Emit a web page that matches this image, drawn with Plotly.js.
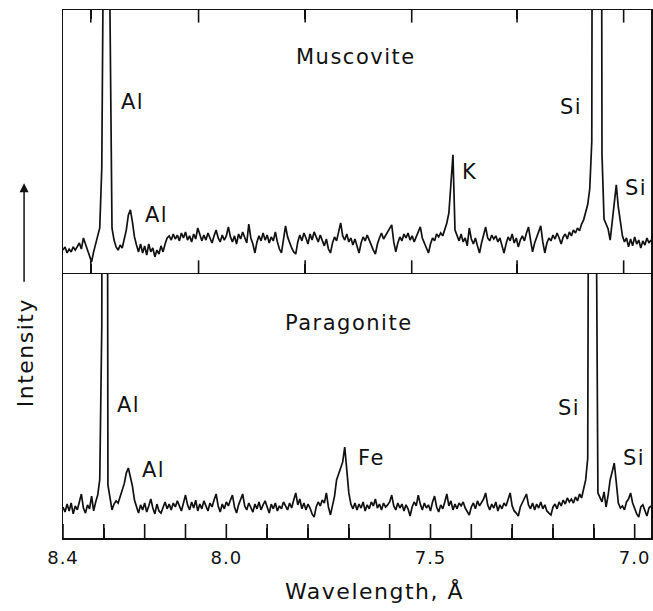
<!DOCTYPE html>
<html>
<head>
<meta charset="utf-8">
<script src="https://cdn.plot.ly/plotly-3.0.1.min.js"></script>
<style>
html,body{margin:0;padding:0;background:#fff;}
#chart{width:653px;height:611px;}
.annotation-text{letter-spacing:1.5px;}
.xtick text, .x2tick text{letter-spacing:1px;}
</style>
</head>
<body>
<div id="chart"></div>
<script>
// Wavelength grid (Angstrom), scanned from 8.40 down to 6.96
const wavelength = [
8.4,8.395,8.39,8.385,8.38,8.375,8.37,8.365,8.36,8.355,
8.35,8.345,8.34,8.335,8.33,8.325,8.32,8.315,8.31,8.305,
8.3,8.295,8.29,8.285,8.28,8.275,8.27,8.265,8.26,8.255,
8.25,8.245,8.24,8.235,8.23,8.225,8.22,8.215,8.21,8.205,
8.2,8.195,8.19,8.185,8.18,8.175,8.17,8.165,8.16,8.155,
8.15,8.145,8.14,8.135,8.13,8.125,8.12,8.115,8.11,8.105,
8.1,8.095,8.09,8.085,8.08,8.075,8.07,8.065,8.06,8.055,
8.05,8.045,8.04,8.035,8.03,8.025,8.02,8.015,8.01,8.005,
8.0,7.995,7.99,7.985,7.98,7.975,7.97,7.965,7.96,7.955,
7.95,7.945,7.94,7.935,7.93,7.925,7.92,7.915,7.91,7.905,
7.9,7.895,7.89,7.885,7.88,7.875,7.87,7.865,7.86,7.855,
7.85,7.845,7.84,7.835,7.83,7.825,7.82,7.815,7.81,7.805,
7.8,7.795,7.79,7.785,7.78,7.775,7.77,7.765,7.76,7.755,
7.75,7.745,7.74,7.735,7.73,7.725,7.72,7.715,7.71,7.705,
7.7,7.695,7.69,7.685,7.68,7.675,7.67,7.665,7.66,7.655,
7.65,7.645,7.64,7.635,7.63,7.625,7.62,7.615,7.61,7.605,
7.6,7.595,7.59,7.585,7.58,7.575,7.57,7.565,7.56,7.555,
7.55,7.545,7.54,7.535,7.53,7.525,7.52,7.515,7.51,7.505,
7.5,7.495,7.49,7.485,7.48,7.475,7.47,7.465,7.46,7.455,
7.45,7.445,7.44,7.435,7.43,7.425,7.42,7.415,7.41,7.405,
7.4,7.395,7.39,7.385,7.38,7.375,7.37,7.365,7.36,7.355,
7.35,7.345,7.34,7.335,7.33,7.325,7.32,7.315,7.31,7.305,
7.3,7.295,7.29,7.285,7.28,7.275,7.27,7.265,7.26,7.255,
7.25,7.245,7.24,7.235,7.23,7.225,7.22,7.215,7.21,7.205,
7.2,7.195,7.19,7.185,7.18,7.175,7.17,7.165,7.16,7.155,
7.15,7.145,7.14,7.135,7.13,7.125,7.12,7.115,7.11,7.105,
7.1,7.095,7.09,7.085,7.08,7.075,7.07,7.065,7.06,7.055,
7.05,7.045,7.04,7.035,7.03,7.025,7.02,7.015,7.01,7.005,
7.0,6.995,6.99,6.985,6.98,6.975,6.97,6.965,6.96
];

// Muscovite intensity (relative, panel full height = 100; off-scale peaks exceed 100)
const muscovite = [
8.7,9.9,7.6,9.1,8.0,9.9,8.7,10.3,11.4,9.1,
13.3,11.0,8.7,6.5,4.2,8.0,10.6,14.1,17.1,40,
150,600,600,100,17,12.5,9.9,8.7,10.6,9.5,
13.3,16.3,22,24,19.4,13.7,10.6,8.0,11.0,7.6,
10.3,6.8,11.0,8.0,9.5,6.1,8.7,7.2,10.3,8.0,
11.0,13.3,14.1,12.5,14.8,12.9,14.4,12.2,15.2,13.3,
15.6,12.5,14.1,11.8,14.8,12.9,17.1,14.1,12.2,14.4,
12.5,15.2,13.3,11.4,14.1,16.3,13.3,11.8,14.4,12.5,
14.1,17.5,13.7,11.8,14.1,11.0,14.8,12.9,15.6,13.3,
11.4,18.6,13.3,11.0,7.6,11.8,14.1,12.2,15.2,12.5,
14.4,11.4,13.7,12.2,15.6,11.8,9.1,7.6,12.5,17.9,
13.7,11.4,9.5,8.0,7.2,11.8,14.4,12.2,15.2,13.3,
11.0,14.8,12.5,15.6,13.3,11.8,14.4,12.5,10.3,12.9,
9.1,7.6,11.4,13.7,12.2,15.6,19.0,14.1,12.5,14.8,
11.8,13.3,10.6,12.9,9.9,7.6,11.4,13.7,12.2,14.4,
12.5,10.3,8.7,7.2,11.0,13.3,15.2,12.9,14.4,15.6,
17.1,18.3,11.8,8.0,11.4,13.7,12.2,14.8,13.3,15.2,
12.5,14.1,11.8,13.7,15.6,17.5,13.3,11.4,9.5,7.6,
11.0,13.3,12.2,14.8,13.7,15.2,14.1,16.3,19.0,22.8,
33,44.9,16.3,14.1,12.2,14.8,11.8,13.3,10.3,17.1,
12.9,11.0,13.3,10.3,7.6,11.4,14.1,17.5,13.3,12.2,
14.4,12.9,14.1,11.8,13.3,10.3,7.6,11.0,13.7,12.2,
14.8,11.4,13.3,9.9,12.5,14.1,12.2,15.2,17.5,12.5,
8.0,11.4,13.7,15.2,17.9,11.8,7.6,11.4,13.3,12.2,
14.4,12.9,15.2,13.3,11.0,13.7,14.8,12.9,15.6,14.1,
16.3,15.2,17.1,16.0,18.6,20.2,22.8,26,32,50,
500,600,600,500,45,20.5,18.3,16.7,12.5,19.4,
26,33.5,25,19.0,14.1,11.8,13.3,9.9,12.9,10.3,
13.7,11.0,12.5,9.5,12.2,10.6,13.3,11.4,12.5
];

// Paragonite intensity (relative)
const paragonite = [
11.7,9.8,12.8,10.2,13.2,9.1,12.1,10.6,13.6,16.6,
11.3,9.4,12.5,11.0,15.8,10.2,13.6,16.2,22,80,
600,600,20,14.3,10.6,12.8,14.0,13.2,15.5,17.4,
20.5,24.5,26.4,23,19.6,14.3,12.1,9.4,12.5,10.6,
13.2,9.8,12.1,14.7,11.3,9.1,12.8,10.2,9.4,11.7,
13.6,11.0,12.8,10.6,13.2,11.7,14.0,12.1,10.2,13.2,
16.2,12.5,10.6,13.6,11.3,14.3,10.2,12.8,11.0,14.0,
12.1,10.2,13.2,11.7,14.3,16.6,12.1,9.8,12.8,11.0,
13.6,12.1,14.3,16.2,11.7,9.4,12.5,14.7,16.6,12.1,
10.6,13.2,11.3,9.8,12.8,11.0,13.6,10.6,12.5,14.0,
11.7,9.4,12.8,11.0,13.2,10.2,12.1,11.0,13.6,12.1,
10.6,13.2,11.3,14.3,17.0,12.5,14.7,11.0,13.2,10.6,
12.8,11.3,9.1,7.9,11.7,13.6,12.1,14.3,13.2,17.0,
11.7,8.7,12.5,15.8,21.9,24.5,26.4,28.7,34.3,24.5,
17.0,12.8,11.0,13.2,10.6,12.8,11.3,13.6,10.2,12.5,
11.0,13.6,12.1,14.7,11.3,12.8,10.6,13.2,11.7,12.5,
13.6,16.2,12.1,10.6,13.2,11.3,12.8,10.2,12.5,11.0,
8.3,11.7,13.6,12.1,16.2,12.8,10.6,13.2,11.3,12.5,
10.2,13.6,15.8,11.7,9.8,12.5,11.0,13.6,16.6,12.1,
14.0,10.6,12.8,11.0,13.2,12.1,13.6,11.3,10.2,8.7,
11.7,13.2,11.0,14.0,12.1,13.6,14.7,17.0,12.5,10.6,
12.8,11.3,13.6,10.2,12.5,11.0,13.2,12.1,14.7,17.0,
12.1,10.2,9.4,8.3,11.7,13.2,15.1,16.6,12.5,11.0,
13.2,10.6,12.8,11.3,13.6,11.0,12.5,10.2,9.4,8.7,
11.7,12.8,11.0,13.6,12.1,14.3,12.8,15.1,13.6,14.7,
13.2,15.5,14.0,16.6,15.1,18.1,21.9,30,300,600,
600,150,17,15.5,13.6,17.4,11.7,16.2,22,25,
28.3,21,13.2,11.3,12.1,10.6,13.6,14.7,17.0,13.2,
11.0,9.1,7.9,11.7,12.5,10.6,8.3,11.3,12.1
];

// Tick marks
const muscoviteTicks = [8.332, 8.068, 7.807, 7.546, 7.288, 7.027];
const wavelengthTicks = [8.4,8.3,8.2,8.1,8.0,7.9,7.8,7.7,7.6,7.5,7.4,7.3,7.2,7.1,7.0];
const wavelengthTickText = ["8.4","","","","8.0","","","","","7.5","","","","","7.0"];

// Peak labels
const muscoviteLabels = ["Al","Al","K","Si","Si"];
const muscoviteLabelX = [8.263, 8.205, 7.427, 7.188, 7.029];
const muscoviteLabelY = [65, 22, 38.4, 63, 32.3];
const paragoniteLabels = ["Al","Al","Fe","Si","Si"];
const paragoniteLabelX = [8.273, 8.212, 7.683, 7.193, 7.034];
const paragoniteLabelY = [50.2, 25.7, 30.2, 49, 30.2];

const FONT = "DejaVu Sans, Arial, sans-serif";
const INK = "#111";
const Y_RANGE = [0, 100];

// inward tick marks drawn as vertical-line markers sitting on the panel edges (half clipped away)
function tickTrace(vals, yEdge, xa, ya, size){
  return {x: vals, y: vals.map(()=>yEdge), xaxis: xa, yaxis: ya, mode: "markers",
    marker: {symbol: "line-ns-open", size: size, color: INK, line: {color: INK, width: 1.6}},
    cliponaxis: true, hoverinfo: "skip", showlegend: false};
}

const traces = [
  {x: wavelength, y: muscovite, xaxis:"x", yaxis:"y", mode:"lines", line:{color:INK, width:1.7}, hoverinfo:"skip", showlegend:false},
  {x: wavelength, y: paragonite, xaxis:"x2", yaxis:"y2", mode:"lines", line:{color:INK, width:1.7}, hoverinfo:"skip", showlegend:false},
  tickTrace(muscoviteTicks, Y_RANGE[0], "x", "y", 18),
  tickTrace(muscoviteTicks, Y_RANGE[1], "x", "y", 18),
  tickTrace(wavelengthTicks, Y_RANGE[0], "x2", "y2", 20)
];

const annotations = [];
muscoviteLabels.forEach((t,i)=>annotations.push({xref:"x", yref:"y", x: muscoviteLabelX[i], y: muscoviteLabelY[i], text:t, showarrow:false, xanchor:"left", yanchor:"middle", font:{family:FONT, size:21, color:INK}}));
paragoniteLabels.forEach((t,i)=>annotations.push({xref:"x2", yref:"y2", x: paragoniteLabelX[i], y: paragoniteLabelY[i], text:t, showarrow:false, xanchor:"left", yanchor:"middle", font:{family:FONT, size:21, color:INK}}));
annotations.push({xref:"x", yref:"y", x:7.683, y:82.1, text:"Muscovite", showarrow:false, xanchor:"center", yanchor:"middle", font:{family:FONT, size:21, color:INK}});
annotations.push({xref:"x2", yref:"y2", x:7.700, y:81.1, text:"Paragonite", showarrow:false, xanchor:"center", yanchor:"middle", font:{family:FONT, size:21, color:INK}});
annotations.push({xref:"paper", yref:"paper", x:0.5297, y:-0.100, text:"Wavelength, Å", showarrow:false, xanchor:"center", yanchor:"middle", font:{family:FONT, size:22, color:INK}});
annotations.push({xref:"paper", yref:"paper", x:-0.0645, y:0.350, text:"Intensity", textangle:-90, showarrow:false, xanchor:"center", yanchor:"middle", font:{family:FONT, size:22, color:INK}});
annotations.push({xref:"paper", yref:"paper", x:-0.0662, y:0.672, text:"", showarrow:true, ax:0, ay:100, axref:"pixel", ayref:"pixel", arrowhead:2, arrowsize:1.2, arrowwidth:1.5, arrowcolor:INK});

const baseX = {showgrid:false, zeroline:false, showline:true, linecolor:INK, linewidth:1.5, autorange:false, range:[8.4, 6.96]};
const baseY = {showgrid:false, zeroline:false, showline:true, linecolor:INK, linewidth:1.5, mirror:true, ticks:"", showticklabels:false, autorange:false, range:Y_RANGE};

const layout = {
  width:653, height:611,
  margin:{l:63, r:2, t:10, b:73},
  showlegend:false,
  xaxis: Object.assign({}, baseX, {anchor:"y", tickmode:"array", tickvals: muscoviteTicks, ticks:"inside", ticklen:9, tickwidth:1.5, tickcolor:INK, mirror:"ticks", showticklabels:false}),
  yaxis: Object.assign({}, baseY, {domain:[0.502, 1], anchor:"x"}),
  xaxis2: Object.assign({}, baseX, {anchor:"y2", tickmode:"array", tickvals: wavelengthTicks, ticktext: wavelengthTickText, ticks:"inside", ticklen:10, tickwidth:1.5, tickcolor:INK, tickfont:{family:FONT, size:18, color:INK}, ticklabelstandoff:3}),
  yaxis2: Object.assign({}, baseY, {domain:[0, 0.502], anchor:"x2"}),
  annotations: annotations
};

Plotly.newPlot("chart", traces, layout, {staticPlot:true, displayModeBar:false});
</script>
</body>
</html>
